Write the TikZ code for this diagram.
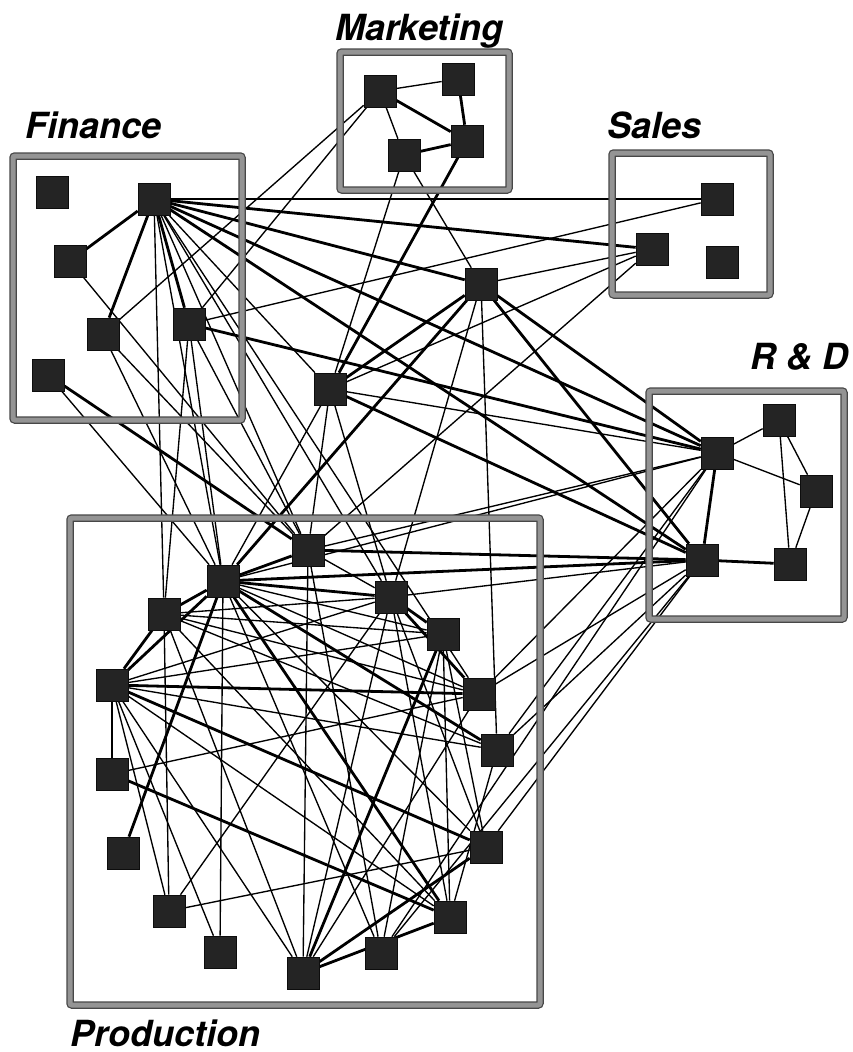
\documentclass[tikz,border=0pt]{standalone}
\usepackage{fontspec}
\setsansfont{TeX Gyre Heros}
\pgfdeclarelayer{edges}
\pgfdeclarelayer{frames}
\pgfsetlayers{edges,frames,main}
\tikzset{
  sq/.style={rectangle, minimum size=32pt, inner sep=0pt, fill=black!86, draw=black!95, line width=0.6pt},
  thinedge/.style={draw=black, line width=1.35pt},
  thickedge/.style={draw=black, line width=2.8pt},
  frameouter/.style={draw=black!72, line width=7.5pt, rounded corners=2pt},
  frameinner/.style={draw=black!42, line width=5pt, rounded corners=2pt},
  grouplabel/.style={font=\sffamily\bfseries\itshape\fontsize{36}{40}\selectfont, inner sep=0pt, anchor=base west}
}
\begin{document}
\begin{tikzpicture}[x=1pt, y=-1pt]
\useasboundingbox (0,0) rectangle (852,1052);

% ---- people (squares) ----
% Finance
\node[sq] (F1) at (52,192) {};
\node[sq] (F2) at (154,199) {};
\node[sq] (F3) at (70,261) {};
\node[sq] (F4) at (103,334) {};
\node[sq] (F5) at (189,324) {};
\node[sq] (F6) at (48,375) {};
% Marketing
\node[sq] (M1) at (380,91) {};
\node[sq] (M2) at (458,79) {};
\node[sq] (M3) at (467,141) {};
\node[sq] (M4) at (404,155) {};
% Sales
\node[sq] (S1) at (717,199) {};
\node[sq] (S2) at (652,249) {};
\node[sq] (S3) at (722,262) {};
% unaffiliated
\node[sq] (H1) at (481,284) {};
\node[sq] (H2) at (330,389) {};
% R & D
\node[sq] (R1) at (717,453) {};
\node[sq] (R2) at (779,420) {};
\node[sq] (R3) at (816,491) {};
\node[sq] (R4) at (702,560) {};
\node[sq] (R5) at (790,564) {};
% Production
\node[sq] (P1) at (223,581) {};
\node[sq] (P2) at (164,614) {};
\node[sq] (P3) at (112,685) {};
\node[sq] (P4) at (308,550) {};
\node[sq] (P5) at (391,597) {};
\node[sq] (P6) at (443,634) {};
\node[sq] (P7) at (479,694) {};
\node[sq] (P8) at (497,750) {};
\node[sq] (P10) at (486,847) {};
\node[sq] (P11) at (450,917) {};
\node[sq] (P12) at (381,953) {};
\node[sq] (P13) at (303,973) {};
\node[sq] (P14) at (220,952) {};
\node[sq] (P15) at (169,911) {};
\node[sq] (P16) at (123,853) {};
\node[sq] (P17) at (112,774) {};

% ---- ties ----
\begin{pgfonlayer}{edges}
\foreach \a/\b in {
  M1/M2, M1/M4,
  R1/R2, R1/R3, R2/R3, R2/R5, R3/R5,
  F2/S1, F2/H2, F2/P2, F2/P1, F2/P4, F2/P5, F2/P7,
  F3/P4,
  F4/M1, F4/P1, F4/P4,
  F5/M1, F5/S1, F5/P2, F5/P1, F5/P4,
  F6/P1,
  M4/H2, M4/H1,
  S2/H1, S2/H2, S2/P4,
  H1/P5, H1/P8,
  H2/R1, H2/P1, H2/P4, H2/P5,
  P1/P6, P1/P7, P1/P10, P1/P12, P1/P14, P1/R1,
  P2/P5, P2/P6, P2/P7, P2/P8, P2/P11, P2/P13, P2/P15,
  P3/P17, P3/P5, P3/P6, P3/P8, P3/P11, P3/P13, P3/P14, P3/P15,
  P4/R1, P4/P5, P4/P12, P4/P13,
  P5/R4, P5/P11, P5/P13, P5/P15, P5/P10,
  P6/P11, P6/P12, P6/P10,
  P7/R1, P7/R4, P7/P17, P7/P13,
  P8/R1, P8/R4, P8/P11,
  P10/R4, P10/P15,
  P12/R1, P12/R4}
  \draw[thinedge] (\a) -- (\b);
\foreach \a/\b in {
  M2/M3, M1/M3, M4/M3,
  R1/R4, R4/R5,
  F2/F3, F2/F4, F2/F5,
  F2/S2, F2/H1, F2/R1, F2/R4,
  F5/R1, F6/P4,
  M3/H2,
  H1/H2, H1/R1, H1/R4, H1/P1,
  H2/R4,
  P1/P2, P1/P3, P1/P4, P1/P5, P1/P8, P1/P11, P1/P16, P1/R4,
  P2/P3, P3/P7, P3/P10,
  P4/R4,
  P5/P6, P5/P7,
  P6/P13,
  P10/P13, P11/P13, P11/P17}
  \draw[thickedge] (\a) -- (\b);
\end{pgfonlayer}

% ---- department frames ----
\begin{pgfonlayer}{frames}
\foreach \x/\y/\X/\Y in {13/156/242/420, 340/52/509/190, 612/153/770/295, 649/391/844/619, 70/518/540/1005} {
  \draw[frameouter] (\x,\y) rectangle (\X,\Y);
  \draw[frameinner] (\x,\y) rectangle (\X,\Y);
}
\end{pgfonlayer}

% ---- department names ----
\node[grouplabel] (lfin) at (25,138) {Finance};
\node[grouplabel] (lmkt) at (335,40) {Marketing};
\node[grouplabel] (lsal) at (607,138) {Sales};
\node[grouplabel] (lrd) at (750,369) {R \& D};
\node[grouplabel] (lprod) at (70,1046) {Production};
\end{tikzpicture}
\end{document}
